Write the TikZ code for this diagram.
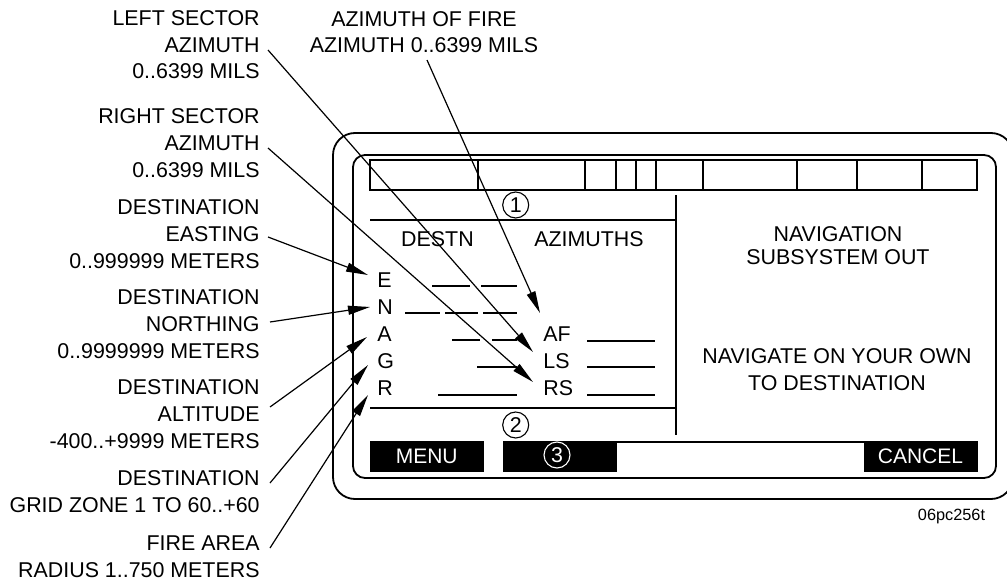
\documentclass[tikz,border=0pt]{standalone}
\usepackage{fontspec}
\setmainfont{Liberation Sans}
\usetikzlibrary{arrows.meta,positioning}

\newcommand{\callfont}{\fontsize{10.7}{13.3}\selectfont}

\tikzset{
  callout/.style={align=right, inner sep=0pt, anchor=base east, font=\callfont},
  field/.style={inner sep=0pt, anchor=base west, font=\callfont},
  screentext/.style={align=center, inner sep=0pt, anchor=base, font=\callfont},
  leader/.style={line width=0.6pt, -{Triangle[length=11pt,width=4.5pt]}},
  frame/.style={line width=0.9pt},
  blank/.style={line width=0.8pt},
  softkey/.style={fill=black, draw=black, minimum width=56.5pt, minimum height=15pt,
    inner sep=0pt, text=white, font=\fontsize{10.5}{12}\selectfont},
  circnum/.style={circle, draw, line width=0.55pt, inner sep=0pt, minimum size=13pt, font=\callfont}
}

\begin{document}
\begin{tikzpicture}[x=0.5pt, y=-0.5pt]
  \useasboundingbox (0,0) rectangle (1007,583);

  % screen outline
  \draw[frame, rounded corners=11pt] (333,133) rectangle (1013,499);
  \draw[frame, rounded corners=6pt] (353,155) rectangle (996,478);
  \draw[frame] (370,160) rectangle (977,190);
  \foreach \x in {478,585,616,636,656,703,797,857,922}
    \draw[frame] (\x,160) -- (\x,190);
  \draw[frame] (370,220) -- (676,220);
  \draw[frame] (370,408) -- (676,408);
  \draw[frame] (676,195) -- (676,435);
  \draw[frame] (617,442) -- (864,442);

  % screen texts
  \node[circnum] (c1) at (515.7,205) {1};
  \node[circnum] (c2) at (515.7,425) {2};
  \node[screentext] (hdestn) at (437.5,246.7) {DESTN};
  \node[screentext] (hazim) at (589,246.7) {AZIMUTHS};
  \node[screentext, font=\fontsize{10.7}{11.65}\selectfont] (navout) at (838,264.3) {NAVIGATION\\SUBSYSTEM OUT};
  \node[screentext, font=\fontsize{10.7}{13.35}\selectfont] (navown) at (837,390) {NAVIGATE ON YOUR OWN\\TO DESTINATION};

  % data fields
  \node[field] (E) at (377,287) {E};
  \node[field] (N) at (377,314) {N};
  \node[field] (A) at (377,341) {A};
  \node[field] (G) at (377,368) {G};
  \node[field] (R) at (377,395) {R};
  \node[field] (AF) at (543,341) {AF};
  \node[field] (LS) at (543,368) {LS};
  \node[field] (RS) at (543,395) {RS};
  \draw[blank] (432,286) -- (470,286) (481,286) -- (517,286);
  \draw[blank] (405,313) -- (440,313) (445,313) -- (478,313) (483,313) -- (517,313);
  \draw[blank] (452,340) -- (480,340) (492,340) -- (517,340);
  \draw[blank] (477,367) -- (517,367);
  \draw[blank] (438,395) -- (517,395);
  \foreach \y in {341,367,395}
    \draw[blank] (587,\y) -- (655,\y);

  % soft keys
  \node[softkey] (kmenu) at (426.7,456.7) {MENU};
  \node[softkey] (kthree) at (560.3,456.7) {};
  \node[circnum, draw=white, text=white] (c3) at (557,455) {3};
  \node[softkey] (kcancel) at (920.5,456.5) {CANCEL};

  % callouts (base = last line)
  \node[screentext] (azfire) at (424,53) {AZIMUTH OF FIRE\\AZIMUTH 0..6399 MILS};
  \node[callout] (lsaz) at (260,79) {LEFT SECTOR\\AZIMUTH\\0..6399 MILS};
  \node[callout] (rsaz) at (260,177) {RIGHT SECTOR\\AZIMUTH\\0..6399 MILS};
  \node[callout] (deste) at (260,268) {DESTINATION\\EASTING\\0..999999 METERS};
  \node[callout] (destn) at (260,358) {DESTINATION\\NORTHING\\0..9999999 METERS};
  \node[callout] (desta) at (260,448) {DESTINATION\\ALTITUDE\\-400..+9999 METERS};
  \node[callout] (destg) at (260,512) {DESTINATION\\GRID ZONE 1 TO 60..+60};
  \node[callout] (firer) at (260,577) {FIRE AREA\\RADIUS 1..750 METERS};

  \draw[leader] ([shift={(3,7)}]azfire.base) -- ([shift={(-3,-28)}]AF.base west);
  \draw[leader] ([shift={(8,-29)}]lsaz.base east) -- ([shift={(-10,-16)}]LS.base west);
  \draw[leader] ([shift={(8,-29)}]rsaz.base east) -- ([shift={(-10,-13)}]RS.base west);
  \draw[leader] ([shift={(8,-31)}]deste.base east) -- ([shift={(-9,-12)}]E.base west);
  \draw[leader] ([shift={(10,-36)}]destn.base east) -- ([shift={(-7,-7)}]N.base west);
  \draw[leader] ([shift={(10,-41)}]desta.base east) -- ([shift={(-10,-4)}]A.base west);
  \draw[leader] ([shift={(10,-29)}]destg.base east) -- ([shift={(-9,-3)}]G.base west);
  \draw[leader] ([shift={(10,-29)}]firer.base east) -- ([shift={(-9,0)}]R.base west);

  \node[inner sep=0pt, anchor=base, font=\fontsize{8.15}{10}\selectfont] (figid) at (951.5,520) {06pc256t};
\end{tikzpicture}
\end{document}
